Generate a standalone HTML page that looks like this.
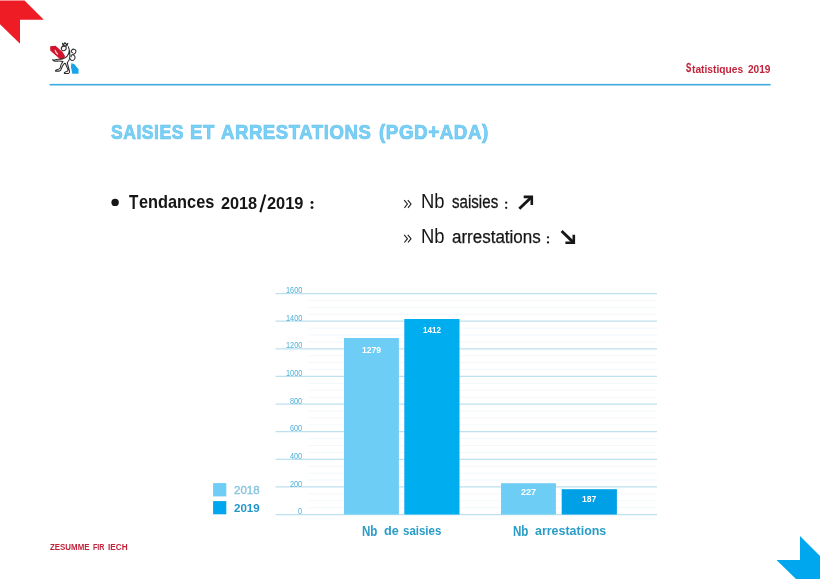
<!DOCTYPE html>
<html><head><meta charset="utf-8"><title>Statistiques 2019</title>
<style>
html,body{margin:0;padding:0;}
body{width:820px;height:579px;background:#fff;position:relative;overflow:hidden;font-family:"Liberation Sans",sans-serif;}
.t{position:absolute;white-space:nowrap;line-height:1;transform-origin:0 0;}
svg{position:absolute;left:0;top:0;}
#tx{position:absolute;left:0;top:0;width:820px;height:579px;will-change:transform;}
</style></head><body>
<svg width="820" height="579" viewBox="0 0 820 579">
<polygon points="0,0.5 24.5,0.5 43.8,19.7 20,19.7 20,43.8 0,24.2" fill="#ee1c25"/>
<polygon points="800,536 820,556 820,579 796,579 776.5,560 800,560" fill="#00a7ee"/>
<rect x="49.6" y="83.9" width="721" height="1.6" fill="#3eaade"/>
<path d="M308 507.69H657M308 500.79H657M308 493.88H657M308 480.06H657M308 473.16H657M308 466.25H657M308 452.43H657M308 445.53H657M308 438.62H657M308 424.80H657M308 417.90H657M308 410.99H657M308 397.17H657M308 390.27H657M308 383.36H657M308 369.54H657M308 362.64H657M308 355.73H657M308 341.91H657M308 335.01H657M308 328.10H657M308 314.28H657M308 307.38H657M308 300.47H657" stroke="#f2f8fb" stroke-width="1" fill="none"/>
<path d="M275.5 514.60H657M275.5 486.97H657M275.5 459.34H657M275.5 431.71H657M275.5 404.08H657M275.5 376.45H657M275.5 348.82H657M275.5 321.19H657M275.5 293.56H657" stroke="#bde1ee" stroke-width="1.2" fill="none"/>
<rect x="344" y="338" width="54.9" height="176.5" fill="#6dcdf5"/>
<rect x="404.3" y="319" width="55.2" height="195.5" fill="#00adef"/>
<rect x="501" y="483.2" width="54.9" height="31.3" fill="#6dcdf5"/>
<rect x="561.7" y="489.2" width="55.2" height="25.3" fill="#00a0e6"/>
<rect x="213.1" y="483.1" width="13.2" height="13.3" fill="#6dcdf5"/>
<rect x="213.1" y="501.1" width="13.2" height="13.2" fill="#00a7ee"/>
<g stroke="#222" fill="none" stroke-width="1.15"><path d="M404.2 200.2L407.4 204L404.4 207.8M407.8 200.2L411 204L408 207.8"/><path d="M404.2 234.9L407.4 238.700L404.4 242.500M407.800 234.900L411 238.700L408 242.500"/></g>
<g fill="#161616"><circle cx="312" cy="202.5" r="1.45"/><circle cx="312" cy="207.600" r="1.45"/><circle cx="506.2" cy="202.700" r="1.15"/><circle cx="506.2" cy="207.800" r="1.15"/><circle cx="548" cy="237.300" r="1.15"/><circle cx="548" cy="242.400" r="1.15"/></g><path d="M260.3 212.200L265.300 194.500" stroke="#161616" stroke-width="2.100" fill="none"/>
<circle cx="115.1" cy="202.4" r="3.7" fill="#161616"/>
<g stroke="#161616" fill="none" stroke-width="2.5" stroke-linejoin="miter"><path d="M519.3 208.8L531.6 197" stroke-width="2.9"/><path d="M523.7 196.9H531.8V204.9" stroke-width="2.6"/><path d="M561.6 231L573.6 242.600" stroke-width="2.9"/><path d="M565.4 242.800H573.8V234.800" stroke-width="2.6"/></g>
<g id="logo">
<path d="M50.2 46.200L55.500 45.800L62.600 52L65 56L63.600 61.300L60 59.200L50.200 50.600Z" fill="#d2142c"/>
<path d="M60.500 58.500L63.600 61.300L64.600 58Z" fill="#8e1430"/>
<path d="M71.300 63.300L74.200 63.900L78.500 69.200V73.800H72.300L71 67.300Z" fill="#18a4ec"/>
<path d="M55.200 50.300c.4 1.500 1.200 2.700 2.300 3.700" stroke="#f8cdc6" stroke-width="1.25" fill="none" stroke-linecap="round"/>
<g stroke="#2a2a2a" stroke-width="1.05" stroke-linecap="round" stroke-linejoin="round" fill="#fff">
<path d="M68.400 46.900C69.800 50 69.200 53.500 67.400 55.800C66 57.500 64.300 58.600 62.300 59C59.700 59.500 57 59.200 54.700 59.900C53.800 60.200 53 60.100 52.600 59.700C53.100 60.800 54.300 61.300 55.700 61.200C58.100 61 60.200 60.600 62.900 61.600C61.300 63.500 60.300 65.800 60.100 68.100C59.500 69.100 58.200 69.700 56.700 69.800C55.800 70 55.400 70.600 55.500 71.100H59.400C60.300 70.800 60.900 70.100 61.200 69.100C61.800 66.900 62.800 64.900 64.400 63.300L65.500 63.500C66.100 65.800 67.400 67.800 68.100 69.900C67.800 71.200 66.800 71.900 65.500 72.100C64.600 72.300 64.100 72.900 64.300 73.400H68.600C69.400 73 69.700 72.200 69.500 71.300C68.900 68.400 67.900 65.600 67.300 62.600C68.900 61 69.800 58.800 69.900 56.500C70.200 53 69.800 49.500 68.400 46.900Z"/>
<path d="M66 46.600c.5 1.600 0 3.300-1.500 4-1.300.5-2.700 0-3.100-1.200-.3-1.500.6-2.900 2-3.300z"/>
<path d="M62.500 43.200l1.300 1.300 1.200-1.900 1.300 1.900 1.500-1.200-.7 2.400h-4z" fill="none"/>
<path fill="none" d="M69.600 58.200c.9 2.600 3.600 3 4.900 1.100 1.200-1.900.2-4.300-1.600-4.600-1.400-.2-2.300 1-1.700 2.100"/>
<path fill="none" d="M72.600 54.500c2.400-.3 3.800-2.300 3.200-4-.7-1.700-3-1.800-4.100-.3-.8 1.200-.2 2.500 1 2.600"/>
</g>
<path d="M62.300 47.600l1.200.5" stroke="#e8a0a6" stroke-width="0.9" fill="none"/>
</g>

</svg>
<div id="tx">
<div class="t" style="left:685.60px;top:62.19px;font-size:12.9px;color:#c0243b;font-weight:bold;transform:scaleX(0.6222);-webkit-text-stroke:0.3px #c0243b;">S</div>
<div class="t" style="left:692.30px;top:64.59px;font-size:10px;color:#c0243b;font-weight:bold;transform:scaleX(1.0228);">tatistiques</div>
<div class="t" style="left:747.60px;top:64.10px;font-size:10.6px;color:#c0243b;font-weight:bold;transform:scaleX(0.9546);">2019</div>
<div class="t" style="left:111.00px;top:122.52px;font-size:19.6px;color:#7bd0f5;font-weight:bold;letter-spacing:0.600px;transform:scaleX(0.8956);-webkit-text-stroke:0.7px #66c3ee;">SAISIES</div>
<div class="t" style="left:189.76px;top:122.52px;font-size:19.6px;color:#7bd0f5;font-weight:bold;letter-spacing:0.600px;transform:scaleX(0.9445);-webkit-text-stroke:0.7px #66c3ee;">ET</div>
<div class="t" style="left:221.00px;top:122.52px;font-size:19.6px;color:#7bd0f5;font-weight:bold;letter-spacing:0.600px;transform:scaleX(0.9463);-webkit-text-stroke:0.7px #66c3ee;">ARRESTATIONS</div>
<div class="t" style="left:378.50px;top:122.52px;font-size:19.6px;color:#7bd0f5;font-weight:bold;letter-spacing:0.600px;transform:scaleX(0.9571);-webkit-text-stroke:0.7px #66c3ee;">(PGD+ADA)</div>
<div class="t" style="left:128.90px;top:191.91px;font-size:20.1px;color:#161616;font-weight:bold;transform:scaleX(0.7615);">T</div>
<div class="t" style="left:139.30px;top:193.32px;font-size:18.4px;color:#161616;font-weight:bold;transform:scaleX(0.8876);">endances</div>
<div class="t" style="left:220.90px;top:195.06px;font-size:16.3px;color:#161616;font-weight:bold;">2018</div>
<div class="t" style="left:266.90px;top:195.06px;font-size:16.3px;color:#161616;font-weight:bold;transform:scaleX(1.0065);">2019</div>
<div class="t" style="left:420.97px;top:192.36px;font-size:19.8px;color:#161616;transform:scaleX(0.9306);">Nb</div>
<div class="t" style="left:451.60px;top:194.37px;font-size:17.5px;color:#161616;transform:scaleX(0.8634);-webkit-text-stroke:0.3px #161616;">saisies</div>
<div class="t" style="left:420.97px;top:226.96px;font-size:19.8px;color:#161616;transform:scaleX(0.9306);">Nb</div>
<div class="t" style="left:451.60px;top:228.97px;font-size:17.5px;color:#161616;transform:scaleX(0.9708);-webkit-text-stroke:0.25px #161616;">arrestations</div>
<div class="t" style="left:50.00px;top:544.09px;font-size:8.2px;color:#c0243b;font-weight:bold;transform:scaleX(0.9644);">ZESUMME</div>
<div class="t" style="left:93.40px;top:544.09px;font-size:8.2px;color:#c0243b;font-weight:bold;transform:scaleX(0.8738);">FIR</div>
<div class="t" style="left:108.00px;top:544.09px;font-size:8.2px;color:#c0243b;font-weight:bold;">IECH</div>
<div class="t" style="left:362.40px;top:524.11px;font-size:14.2px;color:#2a9cc8;font-weight:bold;transform:scaleX(0.8158);">Nb</div>
<div class="t" style="left:384.40px;top:525.19px;font-size:12.9px;color:#2a9cc8;font-weight:bold;transform:scaleX(0.9816);">de</div>
<div class="t" style="left:403.40px;top:525.19px;font-size:12.9px;color:#2a9cc8;font-weight:bold;transform:scaleX(0.8894);">saisies</div>
<div class="t" style="left:512.60px;top:524.11px;font-size:14.2px;color:#2a9cc8;font-weight:bold;transform:scaleX(0.8158);">Nb</div>
<div class="t" style="left:534.60px;top:525.19px;font-size:12.9px;color:#2a9cc8;font-weight:bold;transform:scaleX(0.9657);">arrestations</div>
<div class="t" style="left:233.70px;top:484.85px;font-size:10.9px;color:#86c5de;transform:scaleX(1.0550);-webkit-text-stroke:0.35px #86c5de;">2018</div>
<div class="t" style="left:233.70px;top:502.75px;font-size:10.9px;color:#2196c8;font-weight:bold;transform:scaleX(1.0550);">2019</div>
<div class="t" style="left:361.80px;top:346.28px;font-size:9.3px;color:#fff;font-weight:bold;transform:scaleX(0.9263);">1279</div>
<div class="t" style="left:423.20px;top:325.88px;font-size:9.3px;color:#fff;font-weight:bold;transform:scaleX(0.8678);">1412</div>
<div class="t" style="left:520.90px;top:488.28px;font-size:9.3px;color:#fff;font-weight:bold;transform:scaleX(0.9778);">227</div>
<div class="t" style="left:582.20px;top:494.98px;font-size:9.3px;color:#fff;font-weight:bold;transform:scaleX(0.9256);">187</div>
<div class="t" style="left:298.00px;top:507.26px;font-size:9.2px;color:#4fb0d6;transform:scaleX(0.7800);">0</div>
<div class="t" style="left:289.80px;top:479.63px;font-size:9.2px;color:#4fb0d6;transform:scaleX(0.7950);">200</div>
<div class="t" style="left:289.80px;top:452.00px;font-size:9.2px;color:#4fb0d6;transform:scaleX(0.7950);">400</div>
<div class="t" style="left:289.80px;top:424.37px;font-size:9.2px;color:#4fb0d6;transform:scaleX(0.7950);">600</div>
<div class="t" style="left:289.80px;top:396.74px;font-size:9.2px;color:#4fb0d6;transform:scaleX(0.7950);">800</div>
<div class="t" style="left:285.70px;top:369.11px;font-size:9.2px;color:#4fb0d6;transform:scaleX(0.7969);">1000</div>
<div class="t" style="left:285.70px;top:341.48px;font-size:9.2px;color:#4fb0d6;transform:scaleX(0.7969);">1200</div>
<div class="t" style="left:285.70px;top:313.85px;font-size:9.2px;color:#4fb0d6;transform:scaleX(0.7969);">1400</div>
<div class="t" style="left:285.70px;top:286.22px;font-size:9.2px;color:#4fb0d6;transform:scaleX(0.7969);">1600</div>
</div>
</body></html>
